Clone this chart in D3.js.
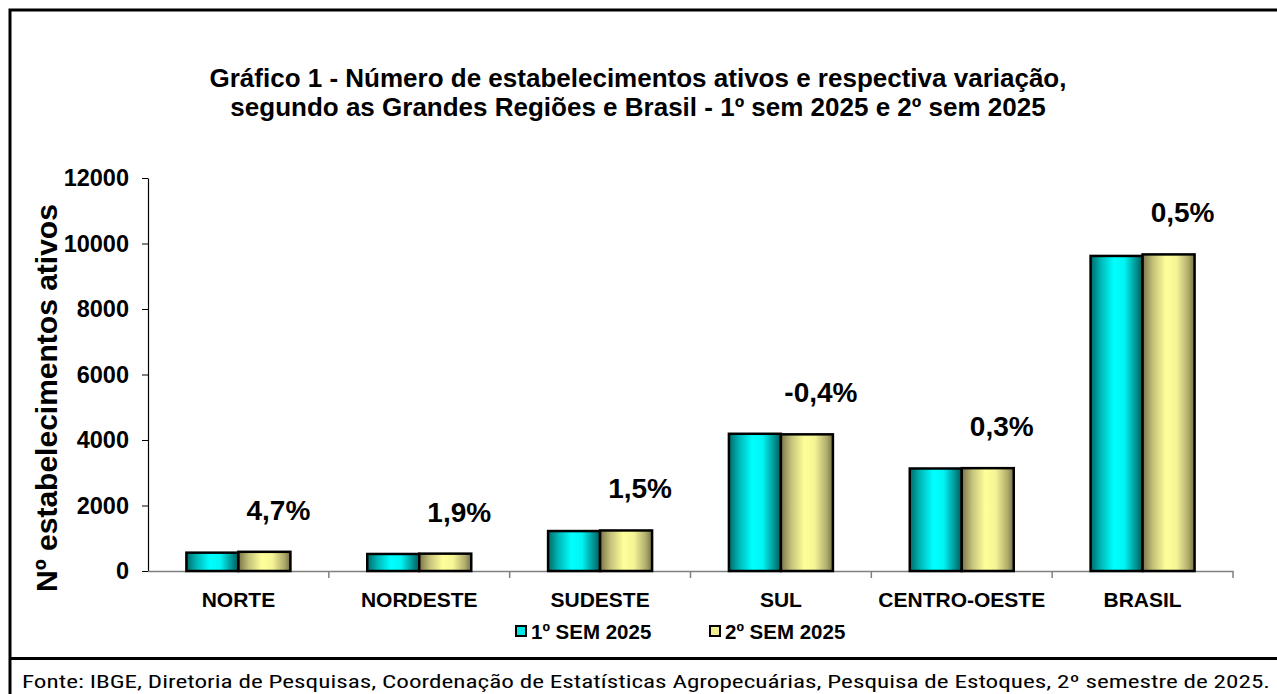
<!DOCTYPE html>
<html><head><meta charset="utf-8">
<script src="https://cdn.jsdelivr.net/npm/d3@7/dist/d3.min.js"></script>
<style>body{margin:0;background:#fff}svg{display:block}</style>
</head><body>
<svg id="c" width="1277" height="694"></svg>
<script>
const categories = ["NORTE","NORDESTE","SUDESTE","SUL","CENTRO-OESTE","BRASIL"];
const sem1 = [560, 520, 1220, 4190, 3130, 9620];
const sem2 = [586, 530, 1238, 4173, 3140, 9667];
const variation = ["4,7%","1,9%","1,5%","-0,4%","0,3%","0,5%"];
const seriesNames = ["1º SEM 2025","2º SEM 2025"];
const yTicks = [0,2000,4000,6000,8000,10000,12000];
const titleLines = ["Gráfico 1 - Número de estabelecimentos ativos e respectiva variação,",
                    "segundo as Grandes Regiões e Brasil - 1º sem 2025 e 2º sem 2025"];
const yTitle = "Nº estabelecimentos ativos";
const source = "Fonte: IBGE, Diretoria de Pesquisas, Coordenação de Estatísticas Agropecuárias, Pesquisa de Estoques, 2º semestre de 2025.";

const svg = d3.select("#c");
const F = "'Liberation Sans', Arial, sans-serif";

// gradients
const defs = svg.append("defs");
function grad(id, stops){
  const g = defs.append("linearGradient").attr("id",id).attr("x1","0%").attr("x2","100%").attr("y1","0%").attr("y2","0%");
  stops.forEach(s=>g.append("stop").attr("offset",s[0]).attr("stop-color",s[1]));
}
grad("gc",[["0%","#006a6a"],["20%","#00b8b8"],["45%","#00ffff"],["65%","#00f4f4"],["88%","#009090"],["100%","#005a5a"]]);
grad("gy",[["0%","#7a7448"],["20%","#c4c27a"],["45%","#ffff99"],["65%","#f6f596"],["88%","#b0ad6c"],["100%","#747048"]]);
const fills = ["url(#gc)","url(#gy)"];
const legendFills = ["#00e5e5","#f0ee90"];

// frame
svg.append("path").attr("d","M10,694 L10,10 L1277,10").attr("fill","none").attr("stroke","#000").attr("stroke-width",3);
svg.append("line").attr("x1",10).attr("x2",1277).attr("y1",658.5).attr("y2",658.5).attr("stroke","#000").attr("stroke-width",3);

// title
svg.append("text").attr("font-family",F).attr("font-weight","bold").attr("font-size",26).attr("text-anchor","middle")
  .selectAll("tspan").data(titleLines).join("tspan").attr("x",638).attr("y",(d,i)=>87+i*29).text(d=>d);

const x0 = d3.scaleBand().domain(categories).range([148,1233]).paddingInner(0).paddingOuter(0);
const x1 = d3.scaleBand().domain([0,1]).range([0,104]);
const y = d3.scaleLinear().domain([0,12000]).range([571,178]);

// y axis
const ya = svg.append("g").attr("transform","translate(148,0)")
  .call(d3.axisLeft(y).tickValues(yTicks).tickSize(6).tickSizeOuter(0).tickFormat(d3.format("d")));
ya.select(".domain").attr("stroke","#000").attr("stroke-width",1.2);
ya.selectAll(".tick line").attr("stroke","#000");
ya.selectAll("text").attr("font-family",F).attr("font-weight","bold").attr("font-size",23.5).attr("fill","#000").attr("x",-19);

// x axis
const xa = svg.append("g").attr("transform","translate(0,571)")
  .call(d3.axisBottom(x0).tickSize(0).tickSizeOuter(0));
xa.select(".domain").attr("stroke","#808080").attr("stroke-width",1.5);
xa.selectAll(".tick text").attr("font-family",F).attr("font-weight","bold").attr("font-size",21).attr("fill","#000").attr("dy","0").attr("y",36);
// separators between categories
const seps = categories.map(c=>x0(c)+x0.bandwidth());
xa.selectAll("line.sep").data(seps).join("line").attr("class","sep")
  .attr("x1",d=>d).attr("x2",d=>d).attr("y1",0).attr("y2",7).attr("stroke","#808080").attr("stroke-width",1.5);

// bars
const series = [sem1, sem2];
const gBars = svg.append("g");
categories.forEach((c,i)=>{
  const cx = x0(c) + x0.bandwidth()/2 - 52;
  [0,1].forEach(s=>{
    gBars.append("rect").attr("x",cx+x1(s)).attr("y",y(series[s][i])).attr("width",x1.bandwidth())
      .attr("height",y(0)-y(series[s][i])).attr("fill",fills[s]).attr("stroke","#000").attr("stroke-width",2.5);
  });
  svg.append("text").attr("x",x0(c)+x0.bandwidth()/2+40).attr("y",y(Math.max(sem1[i],sem2[i]))-32)
    .attr("text-anchor","middle").attr("font-family",F).attr("font-weight","bold").attr("font-size",28).text(variation[i]);
});

// y title
svg.append("text").attr("transform","translate(57,398) rotate(-90)").attr("text-anchor","middle")
  .attr("font-family",F).attr("font-weight","bold").attr("font-size",30).text(yTitle);

// legend
const lg = svg.append("g");
const lx = [516, 710];
seriesNames.forEach((n,i)=>{
  lg.append("rect").attr("x",lx[i]).attr("y",626).attr("width",10).attr("height",10)
    .attr("fill",legendFills[i]).attr("stroke","#000").attr("stroke-width",2);
  lg.append("text").attr("x",lx[i]+15).attr("y",638.5).attr("font-family",F).attr("font-weight","bold").attr("font-size",20.5).text(n);
});

// source
svg.append("text").attr("x",22).attr("y",688).attr("font-family","'Liberation Sans Narrow', 'Roboto Condensed', 'Roboto', sans-serif")
  .attr("font-size",18.5).attr("textLength",1248).attr("lengthAdjust","spacingAndGlyphs").text(source);
</script>
</body></html>
